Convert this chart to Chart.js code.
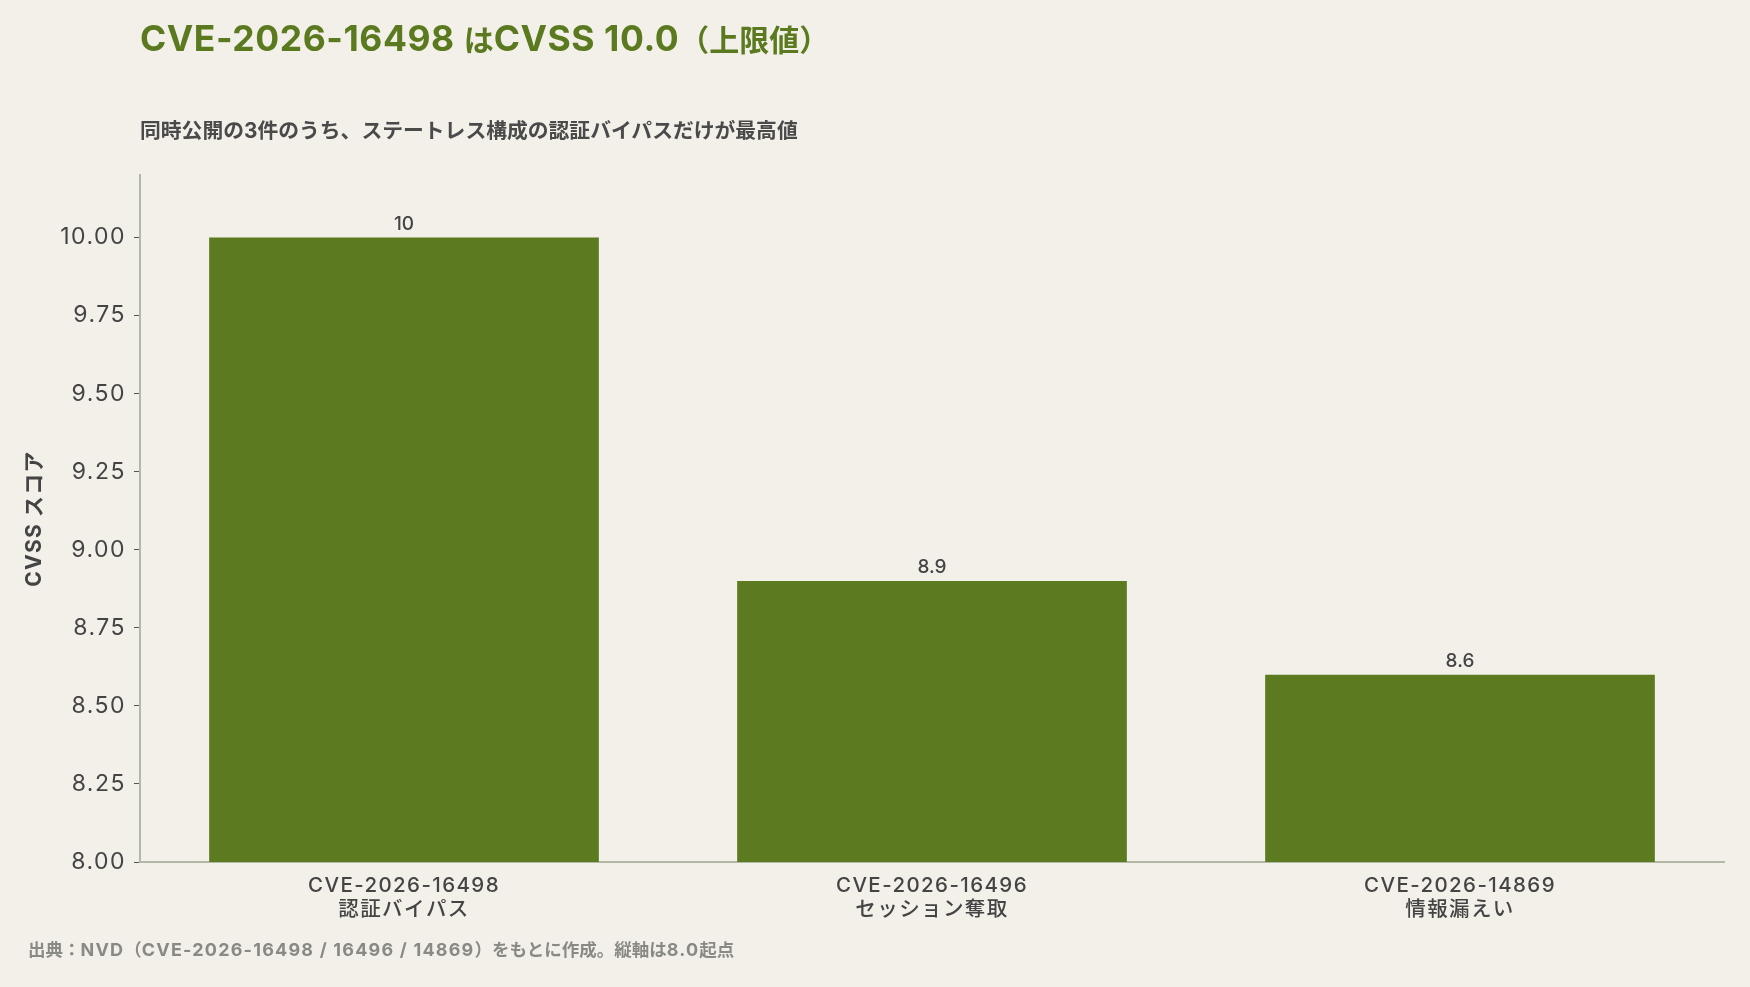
<!DOCTYPE html>
<html lang="ja">
<head>
<meta charset="utf-8">
<script src="https://cdn.jsdelivr.net/npm/chart.js@4/dist/chart.umd.min.js"></script>
<style>
  html, body { margin: 0; padding: 0; background: #f2f0e9; }
  body { width: 1750px; height: 987px; position: relative; overflow: hidden;
         font-family: "Inter", "Noto Sans CJK JP", sans-serif; }
  #title { position: absolute; left: 140px; top: 18px; font-size: 30px; font-weight: 700;
           color: #5b7a1f; white-space: nowrap; line-height: 42px; }
  #title .lat { font-size: 35.5px; letter-spacing: 0.55px; }
  #subtitle { position: absolute; left: 140px; top: 117px; font-size: 20.8px; font-weight: 700;
              color: #4a4a4a; white-space: nowrap; line-height: 28px; }
  #footer { position: absolute; left: 28px; top: 938px; font-size: 17.5px; font-weight: 700;
            color: #8a8a85; white-space: nowrap; line-height: 24px; }
  #footer .lat { font-size: 18px; letter-spacing: 1.2px; }
  #wrap { position: absolute; left: 0; top: 0; width: 1750px; height: 987px; }
</style>
</head>
<body>
<div id="wrap"><canvas id="c" width="1750" height="987"></canvas></div>
<div id="title"><span class="lat">CVE-2026-16498 </span>は<span class="lat">CVSS 10.0</span>（上限値）</div>
<div id="subtitle">同時公開の3件のうち、ステートレス構成の認証バイパスだけが最高値</div>
<div id="footer">出典：<span class="lat">NVD</span>（<span class="lat">CVE-2026-16498 / 16496 / 14869</span>）をもとに作成。縦軸は<span class="lat">8.0</span>起点</div>
<script>
const cveIds = ["CVE-2026-16498", "CVE-2026-16496", "CVE-2026-14869"];
const cveNames = ["認証バイパス", "セッション奪取", "情報漏えい"];
const cvssScores = [10.0, 8.9, 8.6];
const yTicks = [8.00, 8.25, 8.50, 8.75, 9.00, 9.25, 9.50, 9.75, 10.00];
const yAxisTitle = "CVSS スコア";

const labels = cveIds.map((id, i) => [id, cveNames[i]]);
const FONT = '"Inter", "Noto Sans CJK JP", sans-serif';

function patchSpacing(scale, labelLS, titleLS) {
  if (scale.__lsPatched) return;
  scale.__lsPatched = true;
  const proto = Object.getPrototypeOf(scale);
  scale.drawLabels = function (ca) {
    const c = this.ctx; c.save(); c.letterSpacing = labelLS;
    proto.drawLabels.call(this, ca); c.restore();
  };
  scale.drawTitle = function (ca) {
    const c = this.ctx; c.save(); c.letterSpacing = titleLS;
    proto.drawTitle.call(this, ca); c.restore();
  };
}

const valueLabels = {
  id: 'valueLabels',
  afterDatasetsDraw(chart) {
    const ctx = chart.ctx;
    const meta = chart.getDatasetMeta(0);
    ctx.save();
    ctx.font = '500 19px ' + FONT;
    ctx.fillStyle = '#444444';
    ctx.textAlign = 'center';
    ctx.textBaseline = 'bottom';
    meta.data.forEach((bar, i) => {
      const v = cvssScores[i];
      ctx.fillText(String(Number.isInteger(v) ? v : v.toFixed(1)), bar.x, bar.y - 4);
    });
    ctx.restore();
  }
};

new Chart(document.getElementById('c'), {
  type: 'bar',
  data: {
    labels: labels,
    datasets: [{
      data: cvssScores,
      backgroundColor: '#5c7a20',
      borderWidth: 0,
      barPercentage: 0.9,
      categoryPercentage: 0.82
    }]
  },
  options: {
    responsive: false,
    animation: false,
    devicePixelRatio: 1,
    layout: { padding: { top: 175, right: 26, bottom: 65, left: 0 } },
    plugins: { legend: { display: false }, tooltip: { enabled: false }, title: { display: false } },
    scales: {
      x: {
        grid: { display: false, drawOnChartArea: false, drawTicks: true, tickLength: 6, color: '#666' },
        border: { color: '#b3b8a6', width: 2 },
        ticks: {
          color: '#444444',
          padding: 6,
          maxRotation: 0,
          font: { family: FONT, size: 20.5, weight: '500', lineHeight: 1.17 }
        },
        afterFit(scale) { scale.height = 60; patchSpacing(scale, '1.4px', '0px'); }
      },
      y: {
        min: 8,
        max: 10.2,
        afterBuildTicks(scale) { scale.ticks = yTicks.map(v => ({ value: v })); },
        ticks: {
          includeBounds: false,
          color: '#444444',
          padding: 8,
          font: { family: FONT, size: 23 },
          callback: v => Number(v).toFixed(2)
        },
        grid: { drawOnChartArea: false, drawTicks: true, tickLength: 6, color: '#555' },
        border: { color: '#b3b8a6', width: 2 },
        title: {
          display: true,
          text: yAxisTitle,
          color: '#444444',
          font: { family: FONT, size: 21, weight: '700' },
          padding: { top: 22, bottom: 0 }
        },
        afterFit(scale) { scale.width = 140; patchSpacing(scale, '1.5px', '1.2px'); }
      }
    }
  },
  plugins: [valueLabels]
});
</script>
</body>
</html>
